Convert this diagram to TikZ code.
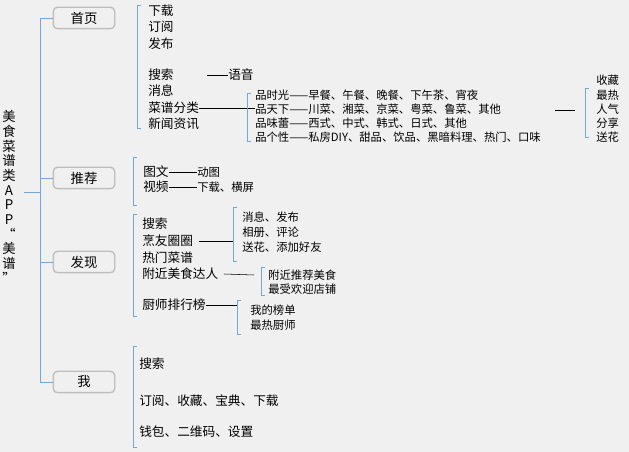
\documentclass[tikz,border=0pt]{standalone}
\usepackage{fontspec}
\setmainfont{Noto Sans CJK SC}
\usepackage{tikz}
\usetikzlibrary{positioning}
\definecolor{bg}{HTML}{F0F0F0}
\definecolor{brk}{HTML}{6FA8DC}
\newcommand{\brak}[3]{\draw[brk] (#1+4,#2) -- (#1,#2) -- (#1,#3) -- (#1+4,#3);}

\begin{document}
\begin{tikzpicture}[x=0.75pt,y=-0.75pt]
                \tikzstyle{item}=[anchor=west, inner sep=0pt, font=\fontsize{9.5pt}{10pt}\selectfont]
                \tikzstyle{sub}=[anchor=west, inner sep=0pt, font=\fontsize{8.5pt}{9pt}\selectfont]
                \tikzstyle{topic}=[draw=gray!50, line width=1pt, rounded corners=3pt, fill=bg, minimum width=46pt, minimum height=16pt, inner sep=0pt, font=\fontsize{10pt}{11pt}\selectfont]
                \tikzstyle{link}=[-, black]
                \fill[bg] (0,0) rectangle (629,452);
                \useasboundingbox (0,0) rectangle (629,452);

                    % Titel
                    \node[inner sep=0pt, align=center, font=\fontsize{10pt}{11pt}\selectfont] (root) at (9,197) {美\\食\\菜\\谱\\类\\A\\P\\P\\“\\美\\谱\\”};

                    % Themen
                    \node[topic] (home) at (84,18) {首页};
                    \node[topic] (rec) at (84,178) {推荐};
                    \node[topic] (find) at (84,262) {发现};
                    \node[topic] (me) at (84,382) {我};
                    \coordinate (hub) at (24,192);
                    \draw[brk] (hub) -- (40,192);
                    \draw[brk] (44,18) -- (40,18) -- (40,382) -- (44,382);
                    \draw[brk] (40,18) -- (home.west);
                    \draw[brk] (40,178) -- (rec.west);
                    \draw[brk] (40,262) -- (find.west);
                    \draw[brk] (40,382) -- (me.west);

                    % 首页
                    \brak{137}{5}{128}
                    \node[item] (h1) at (148,11) {下载};
                    \node[item] (h2) at (148,27) {订阅};
                    \node[item] (h3) at (148,44) {发布};
                    \node[item] (h4) at (148,75) {搜索};
                    \node[item] (h5) at (148,91) {消息};
                    \node[item] (h6) at (148,108) {菜谱分类};
                    \node[item] (h7) at (148,124) {新闻资讯};
                    \node[item] (voice) at (228,75) {语音};
                    \draw[link] ([xshift=25pt]h4.east) -- (voice.west);
                    \coordinate (cat) at (255,108);
                    \draw[link] (h6.east) -- (cat);

                    \brak{247}{93}{141}
                    \node[sub] (p1) at (255,95) {品时光——早餐、午餐、晚餐、下午茶、宵夜};
                    \node[sub] (p2) at (255,109) {品天下——川菜、湘菜、京菜、粤菜、鲁菜、其他};
                    \node[sub] (p3) at (255,123) {品味蕾——西式、中式、韩式、日式、其他};
                    \node[sub] (p4) at (255,137) {品个性——私房DIY、甜品、饮品、黑暗料理、热门、口味};
                    \coordinate (pe) at (575,110);
                    \draw[link] ([xshift=-15pt]pe) -- (pe);

                    \brak{585}{88}{137}
                    \node[sub] (s1) at (596,80) {收藏};
                    \node[sub] (s2) at (596,95) {最热};
                    \node[sub] (s3) at (596,109) {人气};
                    \node[sub] (s4) at (596,123) {分享};
                    \node[sub] (s5) at (596,137) {送花};

                    % 推荐
                    \brak{133}{157}{205}
                    \node[item] (r1) at (143,172) {图文};
                    \node[item] (r2) at (143,187) {视频};
                    \node[sub] (r1a) at (197,172) {动图};
                    \node[sub] (r2a) at (197,187) {下载、横屏};
                    \draw[link] (r1.east) -- (r1a.west);
                    \draw[link] (r2.east) -- (r2a.west);

                    % 发现
                    \brak{133}{214}{316}
                    \node[item] (f1) at (142,224) {搜索};
                    \node[item] (f2) at (142,241) {烹友圈圈};
                    \node[item] (f3) at (142,258) {热门菜谱};
                    \node[item] (f4) at (142,274) {附近美食达人};
                    \node[item] (f5) at (142,305) {厨师排行榜};

                    \brak{233}{207}{261}
                    \draw[link] ([xshift=4pt]f2.east) -- (233,241);
                    \node[sub] (g1) at (242,217) {消息、发布};
                    \node[sub] (g2) at (242,232) {相册、评论};
                    \node[sub] (g3) at (242,247) {送花、添加好友};

                    \brak{261}{267}{295}
                    \draw[link] ([xshift=4pt]f4.east) -- (254,275);
                    \node[sub] (n1) at (268,275) {附近推荐美食};
                    \node[sub] (n2) at (268,289) {最受欢迎店铺};

                    \brak{237}{300}{334}
                    \draw[link] (f5.east) -- (237,305);
                    \node[sub] (c1) at (250,310) {我的榜单};
                    \node[sub] (c2) at (250,325) {最热厨师};

                    % 我
                    \brak{133}{346}{447}
                    \node[item] (m1) at (139,364) {搜索};
                    \node[item] (m2) at (139,401) {订阅、收藏、宝典、下载};
                    \node[item] (m3) at (139,432) {钱包、二维码、设置};
\end{tikzpicture}
\end{document}
